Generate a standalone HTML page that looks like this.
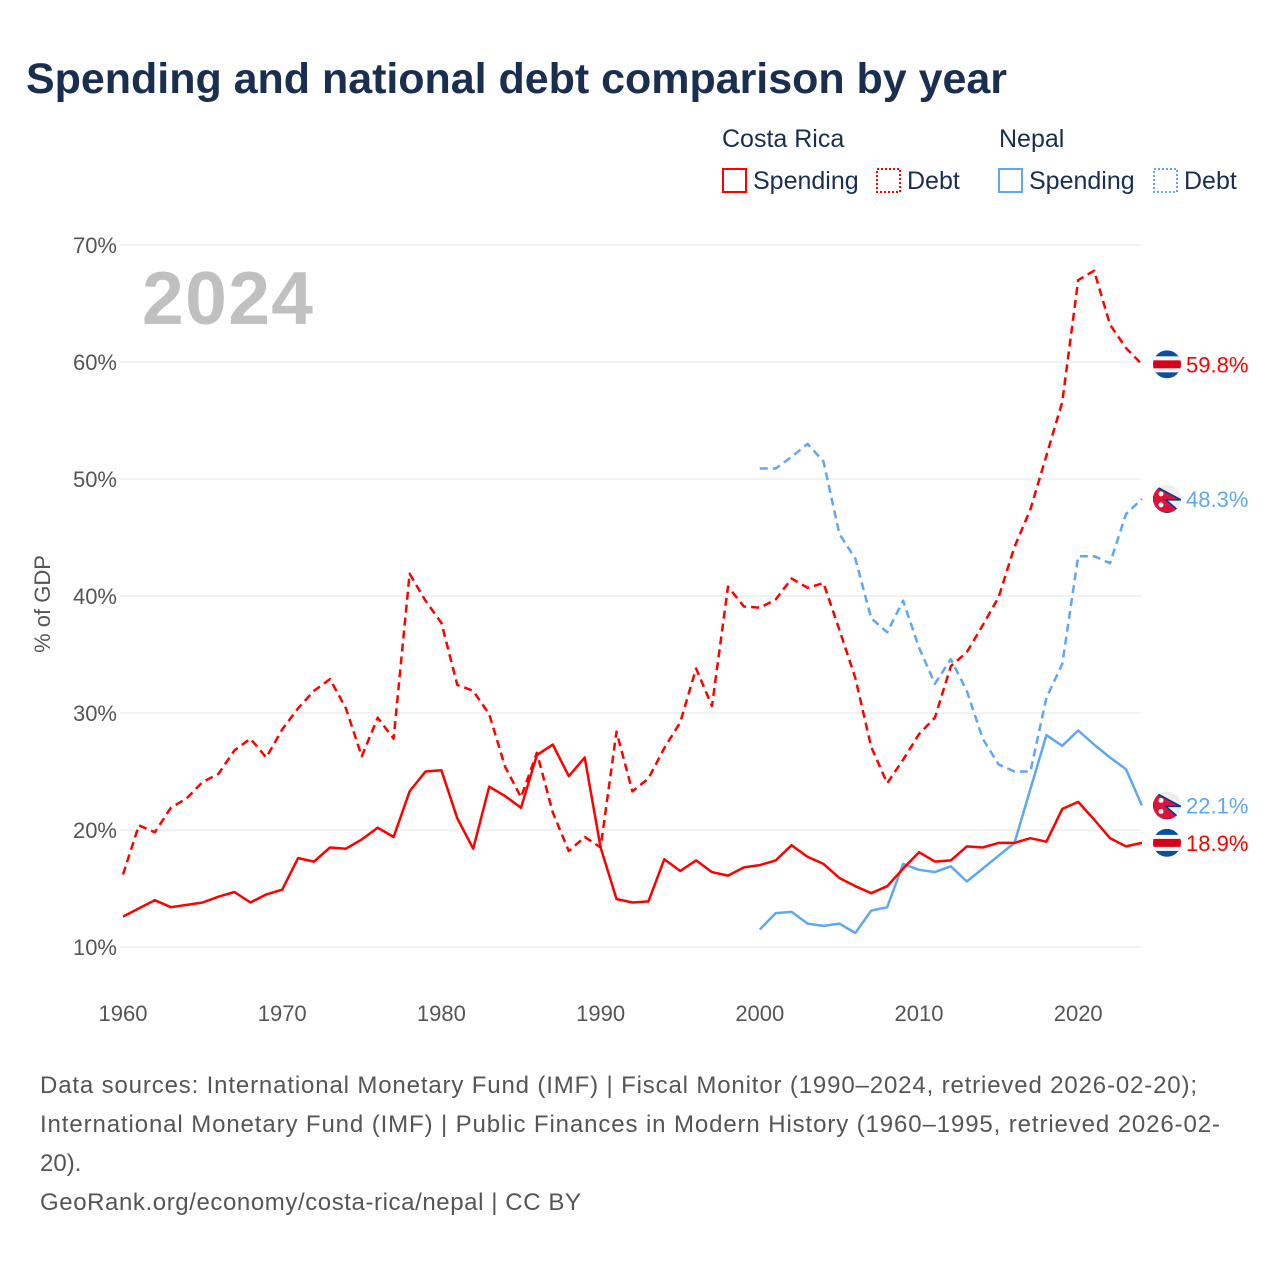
<!DOCTYPE html>
<html><head><meta charset="utf-8"><style>
body{margin:0;background:#fff;font-family:"Liberation Sans",sans-serif;}
#wrap{position:relative;width:1280px;height:1280px;}
svg text{font-family:"Liberation Sans",sans-serif;}
</style></head><body><div id="wrap">
<svg id="chart" width="1280" height="1280">
<text x="26" y="93" font-size="43" font-weight="bold" fill="#1a2e4f" textLength="981">Spending and national debt comparison by year</text>
<g font-size="25" fill="#1a2e4f">
<text x="722" y="147">Costa Rica</text>
<text x="999" y="147">Nepal</text>
<g><rect x="723" y="169" width="23" height="23" fill="none" stroke="#f00" stroke-width="2"/><text x="753" y="189">Spending</text></g>
<g><rect x="877" y="169" width="23" height="23" fill="none" stroke="#f00" stroke-width="2" stroke-dasharray="2,2"/><text x="907" y="189">Debt</text></g>
<g><rect x="999" y="169" width="23" height="23" fill="none" stroke="#5fa8ef" stroke-width="2"/><text x="1029" y="189">Spending</text></g>
<g><rect x="1154" y="169" width="23" height="23" fill="none" stroke="#5fa8ef" stroke-width="2" stroke-dasharray="2,2"/><text x="1184" y="189">Debt</text></g>
</g>
<text x="142" y="324" font-size="75" font-weight="bold" fill="#c0c0c0" textLength="171">2024</text>
<text transform="translate(50,604) rotate(-90)" text-anchor="middle" font-size="22" fill="#555">% of GDP</text>
<g id="grid"></g><g id="series"></g><g id="labels"></g>
<g font-size="24" fill="#555">
<text x="40" y="1093" textLength="1157">Data sources: International Monetary Fund (IMF) | Fiscal Monitor (1990–2024, retrieved 2026-02-20);</text>
<text x="40" y="1132" textLength="1180">International Monetary Fund (IMF) | Public Finances in Modern History (1960–1995, retrieved 2026-02-</text>
<text x="40" y="1171">20).</text>
<text x="40" y="1210" textLength="541">GeoRank.org/economy/costa-rica/nepal | CC BY</text>
</g>
</svg></div>
<script>
const crYears=[];for(let y=1960;y<=2024;y++)crYears.push(y);
const npYears=[];for(let y=2000;y<=2024;y++)npYears.push(y);
const crSpending=[12.6,13.3,14.0,13.4,13.6,13.8,14.3,14.7,13.8,14.5,14.9,17.6,17.3,18.5,18.4,19.2,20.2,19.4,23.3,25.0,25.1,21.0,18.4,23.7,22.9,21.9,26.4,27.3,24.6,26.2,18.5,14.1,13.8,13.9,17.5,16.5,17.4,16.4,16.1,16.8,17.0,17.4,18.7,17.7,17.1,15.9,15.2,14.6,15.2,16.7,18.1,17.3,17.4,18.6,18.5,18.9,18.9,19.3,19.0,21.8,22.4,20.9,19.3,18.6,18.9];
const crDebt=[16.2,20.4,19.8,21.9,22.7,24.1,24.8,26.8,27.8,26.2,28.6,30.4,31.9,32.9,30.4,26.3,29.6,27.8,41.9,39.6,37.7,32.4,31.9,29.9,25.4,22.8,26.6,21.5,18.2,19.4,18.5,28.4,23.3,24.4,27.0,29.2,33.8,30.6,40.8,39.1,39.0,39.7,41.5,40.7,41.1,37.1,33.0,27.1,24.0,26.0,28.2,29.6,34.0,35.2,37.5,39.9,44.2,47.4,52.0,56.6,67.0,67.8,63.2,61.2,59.8];
const npSpending=[11.5,12.9,13.0,12.0,11.8,12.0,11.2,13.1,13.4,17.1,16.6,16.4,16.9,15.6,16.7,17.8,18.9,23.5,28.1,27.2,28.5,27.3,26.2,25.2,22.1];
const npDebt=[50.9,50.9,51.9,53.0,51.5,45.3,43.2,38.1,36.9,39.6,35.6,32.5,34.6,31.9,27.8,25.6,25.0,25.0,31.3,34.2,43.4,43.4,42.8,47.0,48.3];
const yTicks=[10,20,30,40,50,60,70];
const xTicks=[1960,1970,1980,1990,2000,2010,2020];
const NS='http://www.w3.org/2000/svg';
const X=y=>123+(y-1960)*15.92;
const Y=v=>947-(v-10)*11.7;
function mk(t,a,p){const e=document.createElementNS(NS,t);for(const k in a)e.setAttribute(k,a[k]);p.appendChild(e);return e;}
const grid=document.getElementById('grid');
yTicks.forEach(v=>{
 const l=mk('line',{x1:120,x2:1141,y1:Y(v),y2:Y(v),stroke:'#e6e6e6','stroke-width':1},grid);
 
 
 const t=mk('text',{x:117,y:Y(v)+8,'text-anchor':'end','font-size':22,fill:'#555'},grid);t.textContent=v+'%';
 
 
});
xTicks.forEach(v=>{
 const t=mk('text',{x:X(v),y:1021,'text-anchor':'middle','font-size':22,fill:'#555'},grid);t.textContent=v;
 
 
});
const ser=document.getElementById('series');
function line(xs,vs,col,dash,name){
 const d=xs.map((x,i)=>(i?'L':'M')+X(x).toFixed(1)+','+Y(vs[i]).toFixed(1)).join('');
 const p=mk('path',{d:d,fill:'none',stroke:col,'stroke-width':2.5,'stroke-linejoin':'round'},ser);
 if(dash)p.setAttribute('stroke-dasharray','8,5');
 
 
}
const RED='#ff0000',BLUE='#5fa8ef';
line(crYears,crDebt,RED,true,'line-costa-rica-debt');
line(npYears,npDebt,BLUE,true,'line-nepal-debt');
line(npYears,npSpending,BLUE,false,'line-nepal-spending');
line(crYears,crSpending,RED,false,'line-costa-rica-spending');
const lab=document.getElementById('labels');
function flag(v,country,col,name){
 const cy=Y(v),cx=1167;
 const g=mk('g',{},lab);
 
 
 const id='c'+name;
 const cp=mk('clipPath',{id:id},g);mk('circle',{cx:cx,cy:cy,r:14},cp);
 const gg=mk('g',{'clip-path':'url(#'+id+')'},g);
 if(country==='cr'){
  mk('rect',{x:cx-14,y:cy-14,width:28,height:28,fill:'#0b4ea2'},gg);
  mk('rect',{x:cx-14,y:cy-8,width:28,height:16,fill:'#fff'},gg);
  mk('rect',{x:cx-14,y:cy-4,width:28,height:8,fill:'#d9001b'},gg);
 }else{
  mk('rect',{x:cx-14,y:cy-14,width:28,height:28,fill:'#eee'},gg);
  mk('path',{d:`M${cx-14},${cy-14}L${cx+14},${cy+1}L${cx-1},${cy+1}L${cx+14},${cy+14}L${cx-14},${cy+14}Z`,fill:'#dc143c',stroke:'#003893','stroke-width':1.5},gg);
  mk('circle',{cx:cx-6,cy:cy-5,r:2.5,fill:'#fff'},gg);
  mk('circle',{cx:cx-6,cy:cy+6,r:2.5,fill:'#fff'},gg);
 }
 const t=mk('text',{x:1186,y:cy+8,'font-size':22,fill:col},g);t.textContent=v.toFixed(1)+'%';
}
flag(crDebt[crDebt.length-1],'cr',RED,'end-label-cr-debt');
flag(npDebt[npDebt.length-1],'np',BLUE,'end-label-np-debt');
flag(npSpending[npSpending.length-1],'np',BLUE,'end-label-np-spending');
flag(crSpending[crSpending.length-1],'cr',RED,'end-label-cr-spending');
</script></body></html>
